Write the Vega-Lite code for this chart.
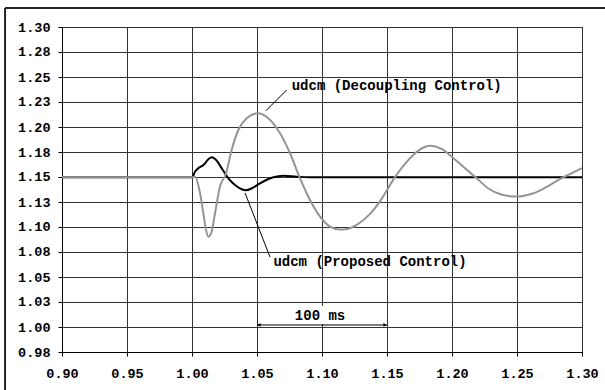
{
  "$schema": "https://vega.github.io/schema/vega-lite/v6.json",
  "width": 520,
  "height": 325,
  "autosize": {"type": "none"},
  "padding": {"left": 62, "top": 27, "right": 23, "bottom": 38},
  "background": "white",
  "config": {
    "view": {"stroke": "#222", "strokeWidth": 1},
    "axis": {
      "domainColor": "#000",
      "tickColor": "#000",
      "tickSize": 4,
      "gridColor": "#333",
      "gridWidth": 1,
      "labelFont": "Liberation Mono",
      "labelFontWeight": "bold",
      "labelFontSize": 13.5,
      "labelColor": "#000",
      "labelOverlap": false,
      "labelFlush": false,
      "labelBound": false,
      "title": null
    }
  },
  "datasets": {
    "curves": [
      {"t": 0.9, "v": 1.152, "s": "prop"},
      {"t": 1.0, "v": 1.152, "s": "prop"},
      {"t": 1.0023, "v": 1.1575, "s": "prop"},
      {"t": 1.0049, "v": 1.161, "s": "prop"},
      {"t": 1.0087, "v": 1.164, "s": "prop"},
      {"t": 1.0126, "v": 1.1697, "s": "prop"},
      {"t": 1.0151, "v": 1.1717, "s": "prop"},
      {"t": 1.019, "v": 1.1684, "s": "prop"},
      {"t": 1.0228, "v": 1.161, "s": "prop"},
      {"t": 1.028, "v": 1.151, "s": "prop"},
      {"t": 1.0331, "v": 1.1444, "s": "prop"},
      {"t": 1.0382, "v": 1.1402, "s": "prop"},
      {"t": 1.0415, "v": 1.1392, "s": "prop"},
      {"t": 1.0465, "v": 1.1415, "s": "prop"},
      {"t": 1.0523, "v": 1.1461, "s": "prop"},
      {"t": 1.0626, "v": 1.152, "s": "prop"},
      {"t": 1.0703, "v": 1.1536, "s": "prop"},
      {"t": 1.0805, "v": 1.1526, "s": "prop"},
      {"t": 1.09, "v": 1.152, "s": "prop"},
      {"t": 1.3, "v": 1.152, "s": "prop"},
      {"t": 0.9, "v": 1.152, "s": "dec"},
      {"t": 1.0, "v": 1.152, "s": "dec"},
      {"t": 1.0023, "v": 1.1526, "s": "dec"},
      {"t": 1.0062, "v": 1.1363, "s": "dec"},
      {"t": 1.0087, "v": 1.1166, "s": "dec"},
      {"t": 1.0108, "v": 1.1001, "s": "dec"},
      {"t": 1.0126, "v": 1.0935, "s": "dec"},
      {"t": 1.0151, "v": 1.0985, "s": "dec"},
      {"t": 1.0177, "v": 1.1166, "s": "dec"},
      {"t": 1.0215, "v": 1.1428, "s": "dec"},
      {"t": 1.0262, "v": 1.156, "s": "dec"},
      {"t": 1.0305, "v": 1.1789, "s": "dec"},
      {"t": 1.0356, "v": 1.1986, "s": "dec"},
      {"t": 1.0421, "v": 1.2101, "s": "dec"},
      {"t": 1.0505, "v": 1.215, "s": "dec"},
      {"t": 1.0587, "v": 1.2101, "s": "dec"},
      {"t": 1.0677, "v": 1.1953, "s": "dec"},
      {"t": 1.0754, "v": 1.1757, "s": "dec"},
      {"t": 1.0831, "v": 1.151, "s": "dec"},
      {"t": 1.0908, "v": 1.1297, "s": "dec"},
      {"t": 1.0985, "v": 1.1132, "s": "dec"},
      {"t": 1.1062, "v": 1.1034, "s": "dec"},
      {"t": 1.1138, "v": 1.1005, "s": "dec"},
      {"t": 1.1195, "v": 1.1012, "s": "dec"},
      {"t": 1.127, "v": 1.1055, "s": "dec"},
      {"t": 1.137, "v": 1.116, "s": "dec"},
      {"t": 1.146, "v": 1.131, "s": "dec"},
      {"t": 1.155, "v": 1.15, "s": "dec"},
      {"t": 1.165, "v": 1.167, "s": "dec"},
      {"t": 1.175, "v": 1.179, "s": "dec"},
      {"t": 1.183, "v": 1.183, "s": "dec"},
      {"t": 1.192, "v": 1.18, "s": "dec"},
      {"t": 1.2, "v": 1.172, "s": "dec"},
      {"t": 1.21, "v": 1.161, "s": "dec"},
      {"t": 1.219, "v": 1.151, "s": "dec"},
      {"t": 1.228, "v": 1.141, "s": "dec"},
      {"t": 1.238, "v": 1.135, "s": "dec"},
      {"t": 1.25, "v": 1.133, "s": "dec"},
      {"t": 1.262, "v": 1.136, "s": "dec"},
      {"t": 1.272, "v": 1.142, "s": "dec"},
      {"t": 1.284, "v": 1.151, "s": "dec"},
      {"t": 1.292, "v": 1.156, "s": "dec"},
      {"t": 1.3, "v": 1.161, "s": "dec"}
    ],
    "labels": [
      {"t": 1.0767, "v": 1.2419, "label": "udcm (Decoupling Control)"},
      {"t": 1.0626, "v": 1.0689, "label": "udcm (Proposed Control)"}
    ],
    "pointers": [
      {"t": 1.0728, "v": 1.238, "t2": 1.0569, "v2": 1.2176},
      {"t": 1.0408, "v": 1.1366, "t2": 1.06, "v2": 1.0735}
    ]
  },
  "layer": [
    {
      "data": {"name": "curves"},
      "mark": {"type": "line", "strokeWidth": 2, "interpolate": "monotone"},
      "encoding": {
        "x": {"field": "t", "type": "quantitative",
          "scale": {"domain": [0.9, 1.3], "nice": false, "zero": false},
          "axis": {"values": [0.9, 0.95, 1.0, 1.05, 1.1, 1.15, 1.2, 1.25, 1.3], "tickCount": 20, "format": ".2f", "labelPadding": 10, "grid": true}},
        "y": {"field": "v", "type": "quantitative",
          "scale": {"domain": [0.98, 1.3], "nice": false, "zero": false},
          "axis": {"values": [0.98, 1.004615, 1.029231, 1.053846, 1.078462, 1.103077, 1.127692, 1.152308, 1.176923, 1.201538, 1.226154, 1.250769, 1.275385, 1.3], "tickCount": 30, "format": ".2f", "labelPadding": 8, "grid": true}},
        "color": {"field": "s", "type": "nominal",
          "scale": {"domain": ["prop", "dec"], "range": ["#000000", "#959595"]}, "legend": null},
        "order": {"field": "s", "sort": "descending"}
      }
    },
    {
      "data": {"values": [{}]},
      "mark": {"type": "rect", "color": "white"},
      "encoding": {
        "x": {"datum": 1.094, "type": "quantitative"},
        "x2": {"datum": 1.106},
        "y": {"datum": 1.0076, "type": "quantitative"},
        "y2": {"datum": 1.0253}
      }
    },
    {
      "data": {"name": "pointers"},
      "mark": {"type": "rule", "color": "#000", "strokeWidth": 1},
      "encoding": {
        "x": {"field": "t", "type": "quantitative"},
        "x2": {"field": "t2"},
        "y": {"field": "v", "type": "quantitative"},
        "y2": {"field": "v2"}
      }
    },
    {
      "data": {"name": "labels"},
      "mark": {"type": "text", "align": "left", "baseline": "middle", "font": "Liberation Mono", "fontWeight": "bold", "fontSize": 14, "color": "#000"},
      "encoding": {
        "x": {"field": "t", "type": "quantitative"},
        "y": {"field": "v", "type": "quantitative"},
        "text": {"field": "label"}
      }
    },
    {
      "data": {"values": [{"t": 1.05, "t2": 1.15, "v": 1.0066}]},
      "mark": {"type": "rule", "color": "#000", "strokeWidth": 1},
      "encoding": {
        "x": {"field": "t", "type": "quantitative"},
        "x2": {"field": "t2"},
        "y": {"field": "v", "type": "quantitative"}
      }
    },
    {
      "data": {"values": [{"t": 1.0515, "v": 1.0066, "dir": "left"}, {"t": 1.1485, "v": 1.0066, "dir": "right"}]},
      "mark": {"type": "point", "filled": true, "color": "#000", "size": 14, "opacity": 1},
      "encoding": {
        "x": {"field": "t", "type": "quantitative"},
        "y": {"field": "v", "type": "quantitative"},
        "shape": {"field": "dir", "type": "nominal", "scale": {"domain": ["left", "right"], "range": ["triangle-left", "triangle-right"]}, "legend": null}
      }
    },
    {
      "data": {"values": [{"t": 1.0985, "v": 1.0155, "label": "100 ms"}]},
      "mark": {"type": "text", "align": "center", "baseline": "middle", "font": "Liberation Mono", "fontWeight": "bold", "fontSize": 14, "color": "#000"},
      "encoding": {
        "x": {"field": "t", "type": "quantitative"},
        "y": {"field": "v", "type": "quantitative"},
        "text": {"field": "label"}
      }
    },
    {
      "data": {"values": [{}]},
      "mark": {"type": "rule", "color": "#222", "strokeWidth": 2},
      "encoding": {
        "x": {"datum": 0.8562, "type": "quantitative"},
        "y": {"datum": 1.3187, "type": "quantitative"},
        "y2": {"datum": 0.9}
      }
    },
    {
      "data": {"values": [{}]},
      "mark": {"type": "rule", "color": "#222", "strokeWidth": 2},
      "encoding": {
        "x": {"datum": 0.8562, "type": "quantitative"},
        "x2": {"datum": 1.4},
        "y": {"datum": 1.3187, "type": "quantitative"}
      }
    }
  ]
}
